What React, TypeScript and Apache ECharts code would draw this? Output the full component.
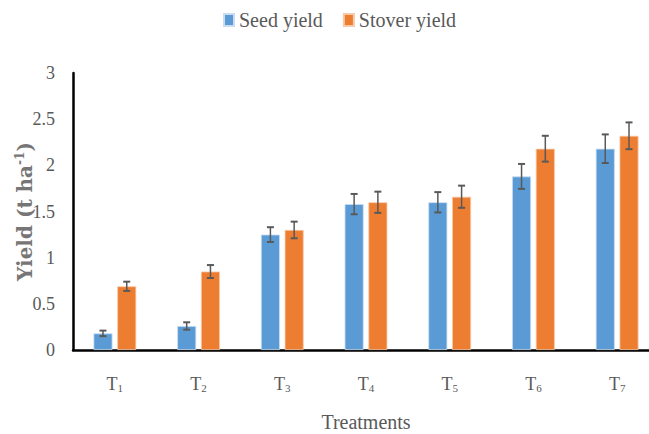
import React, { useEffect, useRef } from "react";
import * as echarts from "echarts";

const categories = ["1", "2", "3", "4", "5", "6", "7"];
const seedYield = [0.18, 0.26, 1.25, 1.58, 1.6, 1.88, 2.18];
const stoverYield = [0.69, 0.85, 1.3, 1.6, 1.66, 2.18, 2.32];
const seedErr = [0.03, 0.04, 0.08, 0.11, 0.11, 0.135, 0.155];
const stoverErr = [0.05, 0.07, 0.09, 0.115, 0.12, 0.14, 0.145];
const yTicks = { min: 0, max: 3, interval: 0.5 };

const BAR_W = 19;
const BAR_GAP = 0.25;
const OFFSET = (BAR_W + BAR_W * BAR_GAP) / 2;

function errSeries(vals: number[], errs: number[], dx: number) {
  return {
    type: "custom",
    silent: true,
    z: 10,
    data: vals.map((v, i) => [i, v, errs[i]]),
    encode: { x: 0, y: 1 },
    renderItem: (params: any, api: any) => {
      const idx = api.value(0);
      const v = api.value(1);
      const e = api.value(2);
      const hi = api.coord([idx, v + e]);
      const lo = api.coord([idx, v - e]);
      const x = hi[0] + dx;
      const cap = 3.5;
      const style = { stroke: "#595959", lineWidth: 1.5 };
      const capStyle = { stroke: "#595959", lineWidth: 2 };
      return {
        type: "group",
        children: [
          { type: "line", shape: { x1: x, y1: hi[1], x2: x, y2: lo[1] }, style },
          { type: "line", shape: { x1: x - cap, y1: hi[1], x2: x + cap, y2: hi[1] }, style: capStyle },
          { type: "line", shape: { x1: x - cap, y1: lo[1], x2: x + cap, y2: lo[1] }, style: capStyle },
        ],
      };
    },
  };
}

export default function App() {
  const ref = useRef<HTMLDivElement>(null);
  useEffect(() => {
    const chart = echarts.init(ref.current!, null, { renderer: "svg" });
    const font = "Liberation Serif";
    const font2 = "DejaVu Serif";
    const grey = "#595959";
    chart.setOption({
      animation: false,
      backgroundColor: "#ffffff",
      textStyle: { fontFamily: font },
      legend: {
        left: 218,
        top: 5,
        itemWidth: 10,
        itemHeight: 12,
        itemGap: 20,
        icon: "rect",
        formatter: (n: string) => `{a|${n}}`,
        textStyle: {
          fontFamily: font,
          fontSize: 20,
          color: grey,
          rich: { a: { fontFamily: font, fontSize: 20, color: grey } },
        },
        data: ["Seed yield", "Stover yield"],
      },
      grid: { left: 73, right: -10, top: 73, bottom: 84, containLabel: false, outerBoundsMode: "none" },
      xAxis: {
        type: "category",
        data: categories,
        axisLine: { lineStyle: { color: "#000000", width: 2.5 } },
        axisTick: { show: false },
        axisLabel: {
          margin: 24,
          formatter: (v: string) => `{t|T}{s|${v}}`,
          rich: {
            t: { fontFamily: font, fontSize: 18, color: grey },
            s: { fontFamily: font, fontSize: 11, color: grey, padding: [8, 0, 0, 0] },
          },
        },
        name: "Treatments",
        nameLocation: "middle",
        nameGap: 62,
        nameMoveOverlap: false,
        nameTextStyle: { fontFamily: font, fontSize: 20, color: grey },
      },
      yAxis: {
        type: "value",
        min: yTicks.min,
        max: yTicks.max,
        interval: yTicks.interval,
        splitLine: { show: false },
        axisLine: { show: true, lineStyle: { color: "#000000", width: 2.5 } },
        axisTick: { show: false },
        axisLabel: {
          margin: 18,
          formatter: (v: number) => `{a|${v}}`,
          rich: { a: { fontFamily: font, fontSize: 18, color: grey } },
        },
        name: "{a|Yield (t ha}{sup|-1}{a|)}",
        nameLocation: "middle",
        nameGap: 37,
        nameMoveOverlap: false,
        nameRotate: 90,
        nameTextStyle: {
          rich: {
            a: { fontFamily: font2, fontSize: 20, fontWeight: "bold", color: "#767676" },
            sup: { fontFamily: font2, fontSize: 12, fontWeight: "bold", color: "#767676", padding: [0, 0, 10, 0] },
          },
        },
      },
      series: [
        {
          name: "Seed yield",
          type: "bar",
          data: seedYield,
          barWidth: BAR_W,
          barGap: `${BAR_GAP * 100}%`,
          itemStyle: { color: "#5B9BD5", borderColor: "#c9dcf0", borderWidth: 0.8 },
        },
        {
          name: "Stover yield",
          type: "bar",
          data: stoverYield,
          barWidth: BAR_W,
          barGap: `${BAR_GAP * 100}%`,
          itemStyle: { color: "#ED7D31", borderColor: "#f7c9a8", borderWidth: 0.8 },
        },
        errSeries(seedYield, seedErr, -OFFSET),
        errSeries(stoverYield, stoverErr, OFFSET),
      ],
    });
    return () => chart.dispose();
  }, []);
  return <div ref={ref} style={{ width: 649, height: 434, position: "absolute", left: 0, top: 0 }} />;
}
